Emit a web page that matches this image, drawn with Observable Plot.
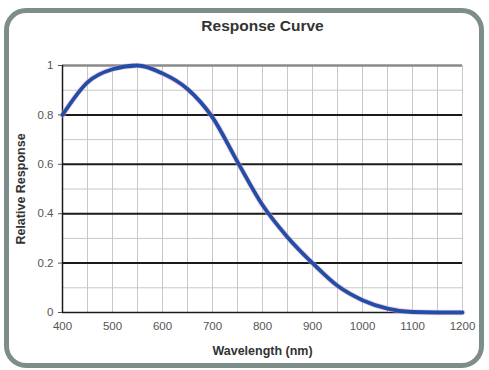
<!DOCTYPE html>
<html><head><meta charset="utf-8">
<script src="https://cdn.jsdelivr.net/npm/d3@7"></script>
<script src="https://cdn.jsdelivr.net/npm/@observablehq/plot@0.6"></script>
<style>
body{margin:0;background:#fff;font-family:"Liberation Sans",Arial,sans-serif;}
#wrap{position:relative;width:489px;height:370px;overflow:hidden;background:#fff;}
#frame{position:absolute;left:4px;top:8px;width:470px;height:350px;border:5px solid #7d8e8a;border-radius:22px;background:#fff;}
#chart{position:absolute;left:0;top:0;}
</style></head><body>
<div id="wrap"><div id="frame"></div><div id="chart"></div></div>
<script>
const wavelength = [400,450,500,550,600,650,700,750,800,850,900,950,1000,1050,1100,1150,1200];
const response   = [0.80,0.932,0.985,1.0,0.968,0.905,0.79,0.61,0.435,0.305,0.20,0.108,0.05,0.016,0.002,0.0,0.0];
const xTicks = [400,500,600,700,800,900,1000,1100,1200];
const yTicks = [0,0.2,0.4,0.6,0.8,1];
const xMinor = d3.range(400,1201,50);
const yMinor = [0.1,0.3,0.5,0.7,0.9];
const yMajor = [0.2,0.4,0.6,0.8];
const data = wavelength.map((w,i)=>({w, r:response[i]}));

const chart = Plot.plot({
  width:489, height:370,
  marginLeft:62, marginRight:27, marginTop:65, marginBottom:58,
  style:{fontFamily:"Liberation Sans, Arial, sans-serif", fontSize:"11.5px", color:"#555", background:"transparent"},
  x:{domain:[400,1200], label:null},
  y:{domain:[0,1], label:null},
  marks:[
    Plot.ruleX(xMinor,{stroke:"#c8c8c8", strokeWidth:1}),
    Plot.ruleY(yMinor,{stroke:"#c8c8c8", strokeWidth:1}),
    Plot.ruleY(yMajor,{stroke:"#1a1a1a", strokeWidth:2}),
    Plot.ruleY([1],{stroke:"#8a8a8a", strokeWidth:2.5}),
    Plot.ruleY([0],{stroke:"#1a1a1a", strokeWidth:1.5}),
    Plot.ruleX([400],{stroke:"#1a1a1a", strokeWidth:1.5}),
    Plot.line(data,{x:"w", y:"r", curve:"monotone-x", stroke:"#f0a0c0", strokeWidth:5.5, strokeOpacity:0.5}),
    Plot.line(data,{x:"w", y:"r", curve:"monotone-x", stroke:"#1f4fa8", strokeWidth:3.8}),
    Plot.axisX({ticks:xTicks, tickSize:0, tickPadding:9, tickFormat:d=>String(d), label:null}),
    Plot.axisY({ticks:yTicks, tickSize:4, tickPadding:5, tickFormat:d=>String(d), label:null}),
    Plot.text(["Response Curve"],{frameAnchor:"top", dy:-46, fontWeight:"bold", fontSize:15.5, fill:"#333"}),
    Plot.text(["Wavelength (nm)"],{frameAnchor:"bottom", dy:42, fontWeight:"bold", fontSize:12.5, fill:"#333"}),
    Plot.text(["Relative Response"],{frameAnchor:"left", textAnchor:"middle", dx:-42, rotate:-90, fontWeight:"bold", fontSize:12.5, fill:"#333"})
  ]
});
document.getElementById("chart").appendChild(chart);
</script>
</body></html>
